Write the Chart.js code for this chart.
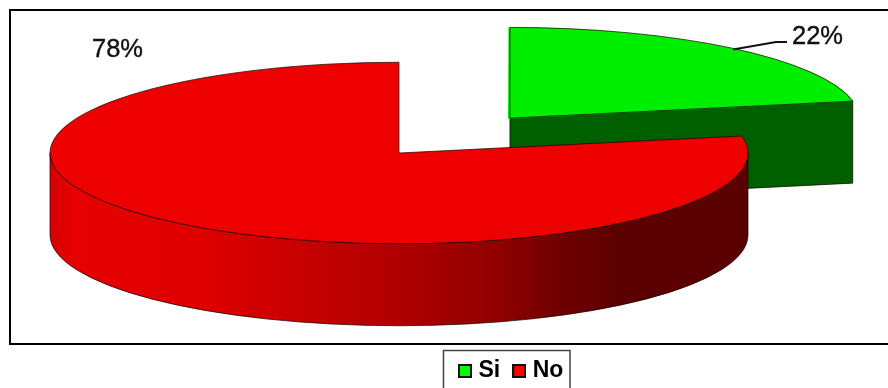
<!DOCTYPE html>
<html>
<head>
<meta charset="utf-8">
<style>html,body{margin:0;padding:0;background:#fff}canvas{display:block}</style>
<script src="https://cdn.jsdelivr.net/npm/chart.js@4"></script>
</head>
<body>
<canvas id="pie" width="888" height="388"></canvas>
<script>
// Survey answers, in percent
const categories = ['Si', 'No'];
const shares = [22, 78];
const topColors = ['#00ee00', '#ee0000'];
const swatchColors = ['#00ff00', '#ff0000'];
const sliceOffsets = [684, 0];

// Projection of the flat pie onto a tilted disc
const SQUASH = 0.26;
const DEPTH = 82;
const RADIUS = 349;
const EDGE = 'rgba(20,0,0,0.7)';

const rimStops = [
  [0, '#d60000'], [0.03, '#e60000'], [0.22, '#df0000'], [0.5, '#b00000'],
  [0.65, '#8e0000'], [0.73, '#700000'], [0.82, '#5a0000'], [1, '#5a0000']
];

function arcGeometry(el) {
  const half = (el.startAngle + el.endAngle) / 2;
  const circ = el.endAngle - el.startAngle;
  const fix = 1 - Math.sin(Math.min(Math.PI, circ));
  const shift = (el.options.offset || 0) / 4 * (1 + fix);
  const flatX = el.x + Math.cos(half) * shift;
  const flatY = el.y + Math.sin(half) * shift;
  return {
    cx: flatX,
    cy: el.y + (flatY - el.y) * SQUASH,
    r: el.outerRadius,
    a0: el.startAngle,
    a1: el.endAngle
  };
}

function edgePoint(g, a) {
  return [g.cx + Math.cos(a) * g.r, g.cy + Math.sin(a) * g.r * SQUASH];
}

function fillStroke(ctx, fill) {
  ctx.fillStyle = fill;
  ctx.fill();
  ctx.strokeStyle = EDGE;
  ctx.lineWidth = 1;
  ctx.stroke();
}

// Extruded side of a slice: visible cut faces and the front part of the rim
function drawSides(ctx, g, faceFill, rimFill) {
  [[g.a1, Math.cos(g.a1) > 0], [g.a0, Math.cos(g.a0) < 0]].forEach(([a, visible]) => {
    if (!visible) return;
    const [ex, ey] = edgePoint(g, a);
    ctx.beginPath();
    ctx.moveTo(g.cx, g.cy);
    ctx.lineTo(ex, ey);
    ctx.lineTo(ex, ey + DEPTH);
    ctx.lineTo(g.cx, g.cy + DEPTH);
    ctx.closePath();
    fillStroke(ctx, faceFill);
  });
  const from = Math.max(g.a0, 0);
  const to = Math.min(g.a1, Math.PI);
  if (to > from) {
    ctx.beginPath();
    ctx.ellipse(g.cx, g.cy, g.r, g.r * SQUASH, 0, from, to);
    ctx.ellipse(g.cx, g.cy + DEPTH, g.r, g.r * SQUASH, 0, to, from, true);
    ctx.closePath();
    const grad = ctx.createLinearGradient(g.cx - g.r, 0, g.cx + g.r, 0);
    rimFill.forEach(([p, c]) => grad.addColorStop(p, c));
    fillStroke(ctx, grad);
  }
}

const tiltedPie = {
  id: 'tiltedPie',
  beforeDraw(chart) {
    const ctx = chart.ctx;
    ctx.save();
    ctx.fillStyle = '#fff';
    ctx.fillRect(0, 0, 888, 388);
    ctx.strokeStyle = '#000';
    ctx.lineWidth = 2;
    ctx.strokeRect(10, 10, 890, 334);
    ctx.strokeStyle = '#444';
    ctx.lineWidth = 1.5;
    ctx.strokeRect(443.5, 350.5, 126.5, 50);
    ctx.restore();
  },
  afterLayout(chart) {
    const legend = chart.legend;
    legend.left = 446;
    legend.right = 600;
    legend.top = 342.5;
    legend.bottom = 388;
    legend.adjustHitBoxes();
  },
  beforeDatasetsDraw(chart) {
    const ctx = chart.ctx;
    const arcs = chart.getDatasetMeta(0).data;
    ctx.save();
    drawSides(ctx, arcGeometry(arcs[0]), '#006000', rimStops);
    drawSides(ctx, arcGeometry(arcs[1]), '#5a0000', rimStops);
    ctx.restore();
    ctx.save();
    const c = arcs[1];
    ctx.translate(c.x, c.y);
    ctx.scale(1, SQUASH);
    ctx.translate(-c.x, -c.y);
  },
  afterDatasetsDraw(chart) {
    const ctx = chart.ctx;
    ctx.restore();
    ctx.save();
    chart.getDatasetMeta(0).data.forEach(el => {
      const g = arcGeometry(el);
      ctx.beginPath();
      ctx.moveTo(g.cx, g.cy);
      ctx.ellipse(g.cx, g.cy, g.r, g.r * SQUASH, 0, g.a0, g.a1);
      ctx.closePath();
      ctx.strokeStyle = EDGE;
      ctx.lineWidth = 1;
      ctx.stroke();
    });
    // Percentage labels and the leader line of the smaller slice
    ctx.strokeStyle = '#111';
    ctx.lineWidth = 2;
    ctx.beginPath();
    ctx.moveTo(733, 49.5);
    ctx.lineTo(776, 42);
    ctx.lineTo(787, 42);
    ctx.stroke();
    ctx.fillStyle = '#111';
    ctx.strokeStyle = '#111';
    ctx.lineWidth = 0.4;
    ctx.font = '25.5px "Liberation Sans", Arial, sans-serif';
    ctx.textBaseline = 'alphabetic';
    [[shares[1] + '%', 92, 57], [shares[0] + '%', 792, 44]].forEach(([t, x, y]) => {
      ctx.fillText(t, x, y);
      ctx.strokeText(t, x, y);
    });
    ctx.restore();
  }
};

function swatch(color) {
  const c = document.createElement('canvas');
  c.width = 14;
  c.height = 14;
  const x = c.getContext('2d');
  x.fillStyle = '#111';
  x.fillRect(0, 0, 14, 14);
  x.fillStyle = color;
  x.fillRect(2, 2, 10, 10);
  return c;
}

new Chart(document.getElementById('pie'), {
  type: 'pie',
  data: {
    labels: categories,
    datasets: [{
      data: shares,
      backgroundColor: topColors,
      offset: sliceOffsets,
      borderWidth: 0,
      clip: false
    }]
  },
  plugins: [tiltedPie],
  options: {
    responsive: false,
    animation: false,
    events: [],
    radius: RADIUS,
    cutout: '0%',
    layout: { padding: { left: 0, top: 0, right: 90, bottom: 32 } },
    plugins: {
      tooltip: { enabled: false },
      legend: {
        position: 'bottom',
        align: 'start',
        labels: {
          color: '#111',
          font: { family: '"Liberation Sans", Arial, sans-serif', size: 23, weight: 'bold' },
          usePointStyle: true,
          pointStyleWidth: 4,
          padding: 17,
          generateLabels: () => categories.map((text, i) => ({
            text,
            index: i,
            pointStyle: swatch(swatchColors[i]),
            fillStyle: swatchColors[i],
            strokeStyle: '#111',
            lineWidth: 0,
            hidden: false
          }))
        }
      }
    }
  }
});
</script>
</body>
</html>
